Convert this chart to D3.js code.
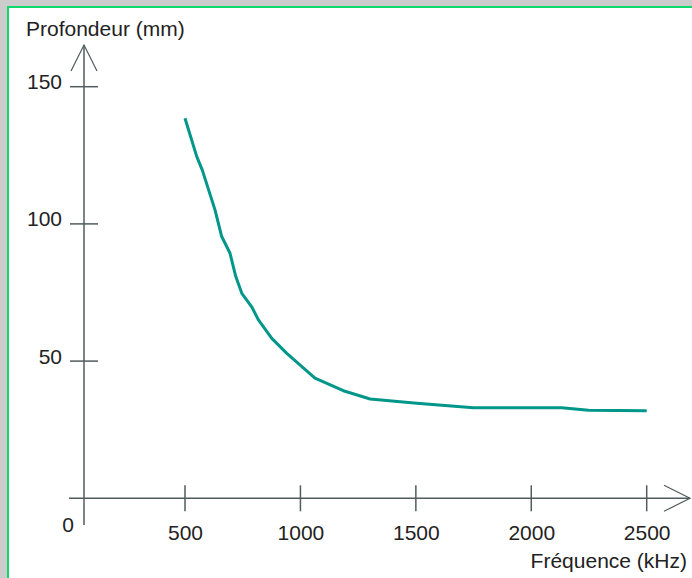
<!DOCTYPE html>
<html>
<head>
<meta charset="utf-8">
<script src="https://cdn.jsdelivr.net/npm/d3@7"></script>
<style>
  body { margin: 0; background: #cccccc; }
  svg { display: block; }
  text { font-family: "Liberation Sans", Arial, sans-serif; fill: #222; font-size: 21px; }
</style>
</head>
<body>
<div id="viz"></div>
<script>
var frequence = [500, 551, 575, 630, 659, 695, 720, 746, 789, 818, 876, 941, 1063, 1186, 1302, 1432, 1504, 1749, 2002, 2132, 2248, 2500];
var profondeur = [138.5, 124.5, 119.6, 105.1, 95.4, 89.3, 80.8, 74.7, 69.8, 65, 58.3, 52.8, 43.8, 39.2, 36.2, 35.2, 34.6, 33.0, 33.0, 33.0, 32.1, 31.9];

var xTicks = [500, 1000, 1500, 2000, 2500];
var yTicks = [50, 100, 150];

var width = 692,
    height = 578;

var svg = d3.select("#viz").append("svg")
    .attr("width", width)
    .attr("height", height);

// frame
svg.append("rect")
    .attr("x", 7).attr("y", 6)
    .attr("width", width - 7).attr("height", height - 6)
    .attr("fill", "#fff");
svg.append("line")
    .attr("x1", 8).attr("x2", width).attr("y1", 7).attr("y2", 7)
    .attr("stroke", "#0fd86a").attr("stroke-width", 2);
svg.append("line")
    .attr("x1", 8).attr("x2", 8).attr("y1", 6).attr("y2", height)
    .attr("stroke", "#0fd86a").attr("stroke-width", 2);

var x = d3.scaleLinear().domain([500, 2500]).range([185, 646.7]);
var y = d3.scaleLinear().domain([0, 150]).range([498.3, 86.7]);

var axisColor = "#505c5e";
var x0 = 84;

// axes lines
svg.append("line")
    .attr("x1", x0).attr("x2", x0).attr("y1", 45).attr("y2", 525)
    .attr("stroke", axisColor).attr("stroke-width", 1.5);
svg.append("line")
    .attr("x1", 69).attr("x2", 690).attr("y1", y(0)).attr("y2", y(0))
    .attr("stroke", axisColor).attr("stroke-width", 1.5);

// arrows
svg.append("path")
    .attr("d", "M71,71L" + x0 + ",45L97,71")
    .attr("fill", "none").attr("stroke", axisColor).attr("stroke-width", 1.2);
svg.append("path")
    .attr("d", "M664," + (y(0) - 13) + "L690," + y(0) + "L664," + (y(0) + 13))
    .attr("fill", "none").attr("stroke", axisColor).attr("stroke-width", 1.2);

// y ticks
svg.selectAll(".ytick")
    .data(yTicks)
  .enter().append("line")
    .attr("class", "ytick")
    .attr("x1", x0 - 14).attr("x2", x0 + 14)
    .attr("y1", function(d) { return y(d); })
    .attr("y2", function(d) { return y(d); })
    .attr("stroke", axisColor).attr("stroke-width", 1.5);

svg.selectAll(".ylab")
    .data(yTicks)
  .enter().append("text")
    .attr("class", "ylab")
    .attr("x", 62)
    .attr("y", function(d) { return y(d) + 2.5; })
    .attr("text-anchor", "end")
    .text(function(d) { return d; });

// x ticks
svg.selectAll(".xtick")
    .data(xTicks)
  .enter().append("line")
    .attr("class", "xtick")
    .attr("x1", function(d) { return x(d); })
    .attr("x2", function(d) { return x(d); })
    .attr("y1", y(0) - 13).attr("y2", y(0) + 13)
    .attr("stroke", axisColor).attr("stroke-width", 1.5);

svg.selectAll(".xlab")
    .data(xTicks)
  .enter().append("text")
    .attr("class", "xlab")
    .attr("x", function(d) { return x(d) + 0.5; })
    .attr("y", 540)
    .attr("text-anchor", "middle")
    .text(function(d) { return d; });

svg.append("text")
    .attr("x", 68).attr("y", 532)
    .attr("text-anchor", "middle")
    .text("0");

// axis titles
svg.append("text")
    .attr("x", 26).attr("y", 36)
    .text("Profondeur (mm)");
svg.append("text")
    .attr("x", 687).attr("y", 568)
    .attr("text-anchor", "end")
    .text("Fréquence (kHz)");

// curve
var line = d3.line()
    .x(function(d) { return x(d[0]); })
    .y(function(d) { return y(d[1]); });

svg.append("path")
    .datum(d3.zip(frequence, profondeur))
    .attr("d", line)
    .attr("fill", "none")
    .attr("stroke", "#00968a")
    .attr("stroke-width", 3)
    .attr("stroke-linejoin", "round");
</script>
</body>
</html>
